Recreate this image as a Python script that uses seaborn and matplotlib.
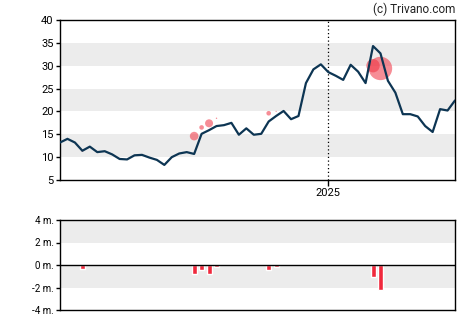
import numpy as np
import pandas as pd
import matplotlib
matplotlib.use("Agg")
import matplotlib.pyplot as plt
import matplotlib.dates as mdates
import seaborn as sns

# ---- data ----
start_date = "2024-04-24"
price = [13.2, 14.0, 13.2, 11.4, 12.3, 11.1, 11.3, 10.6, 9.6, 9.5,
         10.4, 10.5, 9.9, 9.4, 8.3, 10.0, 10.8, 11.1, 10.7, 15.1,
         15.9, 16.8, 17.0, 17.5, 14.9, 16.3, 14.9, 15.1, 17.8, 19.0,
         20.1, 18.3, 19.0, 26.2, 29.2, 30.3, 28.6, 27.8, 26.9, 30.2,
         28.7, 26.2, 34.3, 32.7, 26.7, 24.1, 19.4, 19.4, 18.9, 16.8,
         15.5, 20.5, 20.2, 22.4]
trade_idx = [3, 18, 19, 20, 21, 28, 29, 42, 43]
trade_price = [11.4, 14.6, 16.5, 17.4, 18.5, 19.6, 20.0, 30.0, 29.4]
trade_radius_px = [1.0, 4.3, 2.3, 4.0, 0.7, 2.3, 0.6, 6.7, 11.7]
volume_idx = [3, 18, 19, 20, 21, 28, 29, 42, 43, 52]
volume_m = [-0.35, -0.76, -0.41, -0.76, -0.15, -0.41, -0.15, -1.03, -2.26, 0.09]
price_ticks = [5, 10, 15, 20, 25, 30, 35, 40]
vol_ticks = [-4, -2, 0, 2, 4]
vol_labels = ["-4 m.", "-2 m.", "0 m.", "2 m.", "4 m."]
year_mark = "2025-01-01"

dates = pd.date_range(start_date, periods=len(price), freq="7D")
df = pd.DataFrame({"date": dates, "price": price})
tr = pd.DataFrame({"date": dates[trade_idx], "price": trade_price,
                   "s": [(2 * r * 0.72) ** 2 for r in trade_radius_px]})
vol = pd.DataFrame({"date": dates[volume_idx], "v": volume_m})

sns.set_style("white")
plt.rcParams["font.family"] = ["Roboto", "DejaVu Sans"]

fig = plt.figure(figsize=(4.7, 3.25), dpi=100)
ax = fig.add_axes([60 / 470, 1 - 180 / 325, 395 / 470, 160 / 325])
ax2 = fig.add_axes([60 / 470, 1 - 310 / 325, 395 / 470, 90 / 325])

band = "#ececec"
for lo in (10, 20, 30):
    ax.axhspan(lo, lo + 5, color=band, lw=0, zorder=0)
ax.axvline(pd.Timestamp(year_mark), color="black", ls=(0, (1, 2)), lw=0.9, zorder=1)

ax.scatter(tr["date"], tr["price"], s=tr["s"], color="#f03040", alpha=0.55,
           edgecolor="none", zorder=2)
sns.lineplot(data=df, x="date", y="price", ax=ax, color="#0d3553", lw=1.6, zorder=3)

ax.set_xlim(dates[0], dates[-1])
ax.set_ylim(5, 40)
ax.set_yticks(price_ticks)
ax.set_xticks([pd.Timestamp(year_mark)])
ax.xaxis.set_major_formatter(mdates.DateFormatter("%Y"))
ax.set_xlabel("")
ax.set_ylabel("")
for s in ax.spines.values():
    s.set_visible(True)
    s.set_color("black")
    s.set_linewidth(1.0)
ax.tick_params(axis="both", which="major", length=4, width=1, direction="out",
               labelsize=8, colors="black", pad=1.5)
ax.tick_params(axis="y", left=True, length=3)
ax.tick_params(axis="x", bottom=True, length=4)

# volume panel
for lo in (2, -2):
    ax2.axhspan(lo, lo + 2, color=band, lw=0, zorder=0)
colors = ["#2e8b57" if v > 0 else "#f0283c" for v in vol["v"]]
ax2.bar(vol["date"], vol["v"], width=4.7, color=colors, zorder=2)
ax2.axhline(0, color="black", lw=1.0, zorder=3)
ax2.set_xlim(dates[0], dates[-1])
ax2.set_ylim(-4, 4)
ax2.set_yticks(vol_ticks)
ax2.set_yticklabels(vol_labels)
ax2.set_xticks([])
for s in ax2.spines.values():
    s.set_visible(True)
    s.set_color("black")
    s.set_linewidth(1.0)
ax2.tick_params(axis="y", left=True, length=3, width=1, labelsize=7,
                colors="black", pad=1.5)

fig.text(455 / 470, 1 - 9 / 325, "(c) Trivano.com", ha="right", va="center",
         fontsize=8.5, color="#222222")

fig.savefig("out.png", dpi=100)
